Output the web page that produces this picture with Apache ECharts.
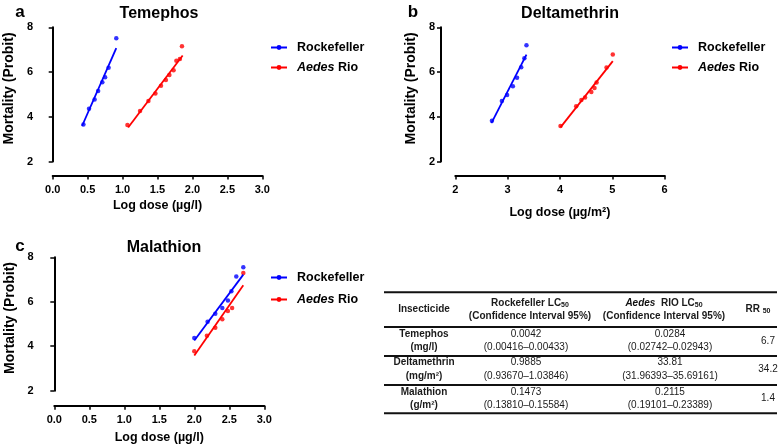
<!DOCTYPE html>
<html><head><meta charset="utf-8">
<script src="https://cdn.jsdelivr.net/npm/echarts@6/dist/echarts.min.js"></script>
<style>html,body{margin:0;padding:0;background:#fff}#c{width:784px;height:446px}</style>
</head><body><div id="c"></div>
<script>
// ---- data ----
const panelTitles = ['Temephos', 'Deltamethrin', 'Malathion'];
const panelLetters = ['a', 'b', 'c'];
const xTitles = ['Log dose (\u00b5g/l)', 'Log dose (\u00b5g/m\u00b2)', 'Log dose (\u00b5g/l)'];
const seriesNames = ['Rockefeller', 'Aedes Rio'];

const temRockX = [0.44, 0.52, 0.60, 0.65, 0.71, 0.75, 0.80, 0.91];
const temRockY = [3.66, 4.36, 4.77, 5.15, 5.55, 5.77, 6.19, 7.51];
const temRockFit = [[0.42, 3.59], [0.91, 7.07]];
const temRioX = [1.07, 1.25, 1.37, 1.47, 1.55, 1.62, 1.67, 1.73, 1.77, 1.82, 1.85];
const temRioY = [3.64, 4.26, 4.71, 5.04, 5.39, 5.65, 5.87, 6.08, 6.51, 6.58, 7.15];
const temRioFit = [[1.08, 3.52], [1.86, 6.74]];

const delRockX = [2.70, 2.89, 2.99, 3.10, 3.18, 3.26, 3.32, 3.36];
const delRockY = [3.82, 4.71, 4.98, 5.37, 5.75, 6.22, 6.62, 7.20];
const delRockFit = [[2.69, 3.72], [3.36, 6.78]];
const delRioX = [4.01, 4.31, 4.41, 4.48, 4.60, 4.66, 4.70, 4.89, 5.01];
const delRioY = [3.59, 4.47, 4.75, 4.86, 5.11, 5.29, 5.53, 6.20, 6.78];
const delRioFit = [[4.01, 3.53], [5.01, 6.49]];

const malRockX = [2.00, 2.19, 2.30, 2.40, 2.48, 2.53, 2.60, 2.70];
const malRockY = [4.37, 5.10, 5.46, 5.72, 6.06, 6.47, 7.14, 7.55];
const malRockFit = [[2.00, 4.26], [2.70, 7.22]];
const malRioX = [2.00, 2.18, 2.30, 2.40, 2.48, 2.54, 2.70];
const malRioY = [3.77, 4.47, 4.83, 5.21, 5.58, 5.72, 7.29];
const malRioFit = [[2.00, 3.58], [2.70, 6.74]];

// table
const tableHeader = ['Insecticide', 'Rockefeller LC{sub|50}', '{it|Aedes}  RIO LC{sub|50}', 'RR {sub|50}'];
const tableHeader2 = ['', '(Confidence Interval 95%)', '(Confidence Interval 95%)', ''];
const tableInsecticide = ['Temephos', 'Deltamethrin', 'Malathion'];
const tableUnits = ['(mg/l)', '(mg/m\u00b2)', '(g/m\u00b2)'];
const tableRockLC = ['0.0042', '0.9885', '0.1473'];
const tableRockCI = ['(0.00416\u20130.00433)', '(0.93670\u20131.03846)', '(0.13810\u20130.15584)'];
const tableRioLC = ['0.0284', '33.81', '0.2115'];
const tableRioCI = ['(0.02742\u20130.02943)', '(31.96393\u201335.69161)', '(0.19101\u20130.23389)'];
const tableRR = ['6.7', '34.2', '1.4'];

// ---- layout ----
const BLUE = '#0000ff', RED = '#ff0000';
const FONT = 'Liberation Sans, Arial, sans-serif';
const panels = [
  {grid: {left: 52.7, top: 27.3, width: 209.6, height: 134.3}, xmin: 0, xmax: 3, xint: 0.5, xdec: 1, xoff: 14, yoff: 13.5, nameGap: 23, yNameGap: 23,
   rock: [temRockX, temRockY, temRockFit], rio: [temRioX, temRioY, temRioFit],
   title: [159, 14], letter: [20, 12], legend: [270, 41], lgap: 7},
  {grid: {left: 455.3, top: 27.3, width: 209.3, height: 134.3}, xmin: 2, xmax: 6, xint: 1, xdec: 0, xoff: 14, yoff: 14.3, nameGap: 30, yNameGap: 23,
   rock: [delRockX, delRockY, delRockFit], rio: [delRioX, delRioY, delRioFit],
   title: [570, 14], letter: [413, 12], legend: [671, 41], lgap: 7},
  {grid: {left: 54.3, top: 257.3, width: 210, height: 133.4}, xmin: 0, xmax: 3, xint: 0.5, xdec: 1, xoff: 15, yoff: 14.6, nameGap: 25, yNameGap: 23,
   rock: [malRockX, malRockY, malRockFit], rio: [malRioX, malRioY, malRioFit],
   title: [164, 248], letter: [20, 246], legend: [270, 271], lgap: 9}
];

const grids = [], xAxes = [], yAxes = [], series = [], titles = [], legends = [];
const axisCommon = {
  axisLine: {show: true, lineStyle: {color: '#000', width: 2}},
  axisTick: {show: true, length: 4, lineStyle: {color: '#000', width: 1.5}},
  splitLine: {show: false},
  axisLabel: {color: '#000', fontWeight: 'bold', fontSize: 11, fontFamily: FONT}
};
panels.forEach((p, i) => {
  grids.push(Object.assign({containLabel: false}, p.grid));
  xAxes.push(Object.assign({}, axisCommon, {
    type: 'value', gridIndex: i, min: p.xmin, max: p.xmax, interval: p.xint, offset: p.xoff,
    axisLabel: Object.assign({}, axisCommon.axisLabel, {margin: 9, formatter: v => v.toFixed(p.xdec)}),
    name: xTitles[i], nameLocation: 'middle', nameGap: p.nameGap,
    nameTextStyle: {color: '#000', fontWeight: 'bold', fontSize: 12.5, fontFamily: FONT}
  }));
  yAxes.push(Object.assign({}, axisCommon, {
    type: 'value', gridIndex: i, min: 2, max: 8, interval: 2, offset: p.yoff,
    axisLabel: Object.assign({}, axisCommon.axisLabel, {margin: 6}),
    name: 'Mortality (Probit)', nameLocation: 'middle', nameGap: p.yNameGap,
    nameTextStyle: {color: '#000', fontWeight: 'bold', fontSize: 14, fontFamily: FONT, padding: [0, 0, 0, 12]}
  }));
  [[p.rock, BLUE, seriesNames[0]], [p.rio, RED, seriesNames[1]]].forEach(([d, col, nm]) => {
    series.push({
      type: 'line', name: nm, xAxisIndex: i, yAxisIndex: i, data: d[2],
      symbol: 'circle', symbolSize: 4, showSymbol: false, silent: true,
      lineStyle: {color: col, width: 1.8}, itemStyle: {color: col}, animation: false
    });
    series.push({
      type: 'scatter', name: nm, xAxisIndex: i, yAxisIndex: i,
      data: d[0].map((x, k) => [x, d[1][k]]),
      symbol: 'circle', symbolSize: 4.5, itemStyle: {color: col}, animation: false
    });
  });
  titles.push({text: panelTitles[i], left: p.title[0], top: p.title[1], textAlign: 'center', textVerticalAlign: 'middle',
    textStyle: {fontSize: 16, fontWeight: 'bold', color: '#000', fontFamily: FONT}, padding: 0});
  titles.push({text: panelLetters[i], left: p.letter[0], top: p.letter[1], textAlign: 'center', textVerticalAlign: 'middle',
    textStyle: {fontSize: 17, fontWeight: 'bold', color: '#000', fontFamily: FONT}, padding: 0});
  legends.push({
    data: seriesNames, orient: 'vertical', left: p.legend[0], top: p.legend[1],
    itemWidth: 16, itemHeight: 6, itemGap: p.lgap, padding: 0, selectedMode: false,
    formatter: n => n === 'Aedes Rio' ? '{it|Aedes} Rio' : n,
    textStyle: {fontSize: 12.5, fontWeight: 'bold', color: '#000', fontFamily: FONT, padding: [0, 0, 0, 5],
      rich: {it: {fontStyle: 'italic', fontWeight: 'bold', fontSize: 12.5, color: '#000', fontFamily: FONT}}}
  });
});

// ---- table graphics ----
const gfx = [];
const TL = 384, TR = 777;
const hLines = [292.3, 327, 356, 385, 413.3];
hLines.forEach(y => gfx.push({type: 'line', shape: {x1: TL, y1: y, x2: TR, y2: y}, style: {stroke: '#111', lineWidth: 2}, silent: true}));
const richT = {
  sub: {fontSize: 7, fontWeight: 'bold', fill: '#111', verticalAlign: 'bottom', padding: [4, 0, 0, 0], fontFamily: FONT},
  it: {fontSize: 10, fontStyle: 'italic', fontWeight: 'bold', fill: '#111', fontFamily: FONT}
};
function txt(x, y, s, bold) {
  gfx.push({type: 'text', x: x, y: y, silent: true, style: {
    text: s, align: 'center', verticalAlign: 'middle', fill: '#1a1a1a',
    font: (bold ? 'bold ' : '') + '10px ' + FONT, rich: richT}});
}
const hdrX = [424, 530, 664, 758];
txt(hdrX[0], 309.5, tableHeader[0], true);
txt(hdrX[1], 303, tableHeader[1], true);
txt(hdrX[1], 316.5, tableHeader2[1], true);
txt(hdrX[2], 303, tableHeader[2], true);
txt(hdrX[2], 316.5, tableHeader2[2], true);
txt(hdrX[3], 309.5, tableHeader[3], true);
const rowY1 = [334.5, 362.7, 392], rowY2 = [347.3, 376, 405.3], rowYm = [341, 369.5, 398.5];
for (let r = 0; r < 3; r++) {
  txt(424, rowY1[r], tableInsecticide[r], true);
  txt(424, rowY2[r], tableUnits[r], true);
  txt(526, rowY1[r], tableRockLC[r], false);
  txt(526, rowY2[r], tableRockCI[r], false);
  txt(670, rowY1[r], tableRioLC[r], false);
  txt(670, rowY2[r], tableRioCI[r], false);
  txt(768, rowYm[r], tableRR[r], false);
}

const chart = echarts.init(document.getElementById('c'), null, {renderer: 'canvas'});
chart.setOption({
  animation: false,
  backgroundColor: '#fff',
  title: titles, legend: legends, grid: grids, xAxis: xAxes, yAxis: yAxes, series: series,
  graphic: gfx
});
</script></body></html>
